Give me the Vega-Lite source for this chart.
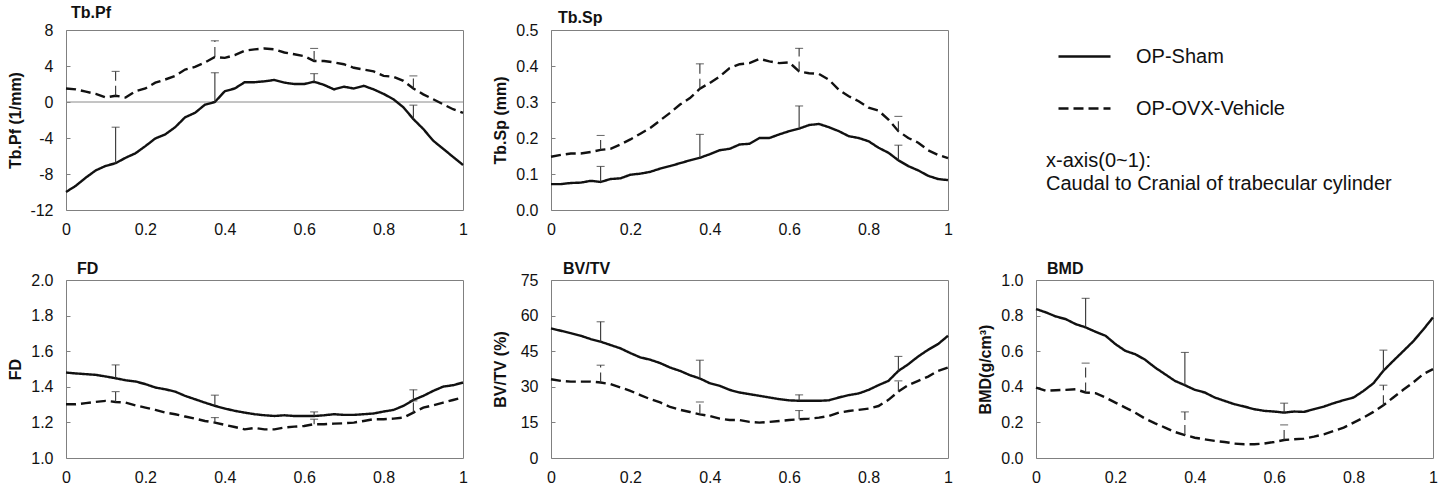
{
  "$schema": "https://vega.github.io/schema/vega-lite/v6.json",
  "background": "white",
  "padding": {"left": 6, "top": 4, "right": 5, "bottom": 5},
  "datasets": {
    "lines": [
      {"p":"Tb.Pf","g":"OP-Sham","x":0,"y":-10.0},{"p":"Tb.Pf","g":"OP-Sham","x":0.025,"y":-9.3},{"p":"Tb.Pf","g":"OP-Sham","x":0.05,"y":-8.4},{"p":"Tb.Pf","g":"OP-Sham","x":0.075,"y":-7.6},{"p":"Tb.Pf","g":"OP-Sham","x":0.1,"y":-7.1},{"p":"Tb.Pf","g":"OP-Sham","x":0.125,"y":-6.8},{"p":"Tb.Pf","g":"OP-Sham","x":0.15,"y":-6.2},{"p":"Tb.Pf","g":"OP-Sham","x":0.175,"y":-5.7},{"p":"Tb.Pf","g":"OP-Sham","x":0.2,"y":-4.9},{"p":"Tb.Pf","g":"OP-Sham","x":0.225,"y":-4.05},{"p":"Tb.Pf","g":"OP-Sham","x":0.25,"y":-3.6},{"p":"Tb.Pf","g":"OP-Sham","x":0.275,"y":-2.8},{"p":"Tb.Pf","g":"OP-Sham","x":0.3,"y":-1.7},{"p":"Tb.Pf","g":"OP-Sham","x":0.325,"y":-1.2},{"p":"Tb.Pf","g":"OP-Sham","x":0.35,"y":-0.3},{"p":"Tb.Pf","g":"OP-Sham","x":0.375,"y":0},{"p":"Tb.Pf","g":"OP-Sham","x":0.4,"y":1.2},{"p":"Tb.Pf","g":"OP-Sham","x":0.425,"y":1.5},{"p":"Tb.Pf","g":"OP-Sham","x":0.45,"y":2.2},{"p":"Tb.Pf","g":"OP-Sham","x":0.475,"y":2.2},{"p":"Tb.Pf","g":"OP-Sham","x":0.5,"y":2.3},{"p":"Tb.Pf","g":"OP-Sham","x":0.525,"y":2.45},{"p":"Tb.Pf","g":"OP-Sham","x":0.55,"y":2.15},{"p":"Tb.Pf","g":"OP-Sham","x":0.575,"y":2.0},{"p":"Tb.Pf","g":"OP-Sham","x":0.6,"y":2.0},{"p":"Tb.Pf","g":"OP-Sham","x":0.625,"y":2.25},{"p":"Tb.Pf","g":"OP-Sham","x":0.65,"y":1.9},{"p":"Tb.Pf","g":"OP-Sham","x":0.675,"y":1.4},{"p":"Tb.Pf","g":"OP-Sham","x":0.7,"y":1.7},{"p":"Tb.Pf","g":"OP-Sham","x":0.725,"y":1.5},{"p":"Tb.Pf","g":"OP-Sham","x":0.75,"y":1.8},{"p":"Tb.Pf","g":"OP-Sham","x":0.775,"y":1.4},{"p":"Tb.Pf","g":"OP-Sham","x":0.8,"y":0.9},{"p":"Tb.Pf","g":"OP-Sham","x":0.825,"y":0.3},{"p":"Tb.Pf","g":"OP-Sham","x":0.85,"y":-0.6},{"p":"Tb.Pf","g":"OP-Sham","x":0.875,"y":-1.9},{"p":"Tb.Pf","g":"OP-Sham","x":0.9,"y":-3.0},{"p":"Tb.Pf","g":"OP-Sham","x":0.925,"y":-4.3},{"p":"Tb.Pf","g":"OP-Sham","x":0.95,"y":-5.2},{"p":"Tb.Pf","g":"OP-Sham","x":0.975,"y":-6.1},{"p":"Tb.Pf","g":"OP-Sham","x":1,"y":-7.0},
      {"p":"Tb.Pf","g":"OP-OVX-Vehicle","x":0,"y":1.5},{"p":"Tb.Pf","g":"OP-OVX-Vehicle","x":0.025,"y":1.4},{"p":"Tb.Pf","g":"OP-OVX-Vehicle","x":0.05,"y":1.15},{"p":"Tb.Pf","g":"OP-OVX-Vehicle","x":0.075,"y":0.9},{"p":"Tb.Pf","g":"OP-OVX-Vehicle","x":0.1,"y":0.5},{"p":"Tb.Pf","g":"OP-OVX-Vehicle","x":0.125,"y":0.7},{"p":"Tb.Pf","g":"OP-OVX-Vehicle","x":0.15,"y":0.5},{"p":"Tb.Pf","g":"OP-OVX-Vehicle","x":0.175,"y":1.2},{"p":"Tb.Pf","g":"OP-OVX-Vehicle","x":0.2,"y":1.5},{"p":"Tb.Pf","g":"OP-OVX-Vehicle","x":0.225,"y":2.15},{"p":"Tb.Pf","g":"OP-OVX-Vehicle","x":0.25,"y":2.5},{"p":"Tb.Pf","g":"OP-OVX-Vehicle","x":0.275,"y":2.9},{"p":"Tb.Pf","g":"OP-OVX-Vehicle","x":0.3,"y":3.6},{"p":"Tb.Pf","g":"OP-OVX-Vehicle","x":0.325,"y":3.9},{"p":"Tb.Pf","g":"OP-OVX-Vehicle","x":0.35,"y":4.4},{"p":"Tb.Pf","g":"OP-OVX-Vehicle","x":0.375,"y":5.0},{"p":"Tb.Pf","g":"OP-OVX-Vehicle","x":0.4,"y":4.9},{"p":"Tb.Pf","g":"OP-OVX-Vehicle","x":0.425,"y":5.2},{"p":"Tb.Pf","g":"OP-OVX-Vehicle","x":0.45,"y":5.7},{"p":"Tb.Pf","g":"OP-OVX-Vehicle","x":0.475,"y":5.85},{"p":"Tb.Pf","g":"OP-OVX-Vehicle","x":0.5,"y":5.95},{"p":"Tb.Pf","g":"OP-OVX-Vehicle","x":0.525,"y":5.85},{"p":"Tb.Pf","g":"OP-OVX-Vehicle","x":0.55,"y":5.5},{"p":"Tb.Pf","g":"OP-OVX-Vehicle","x":0.575,"y":5.3},{"p":"Tb.Pf","g":"OP-OVX-Vehicle","x":0.6,"y":5.1},{"p":"Tb.Pf","g":"OP-OVX-Vehicle","x":0.625,"y":4.55},{"p":"Tb.Pf","g":"OP-OVX-Vehicle","x":0.65,"y":4.55},{"p":"Tb.Pf","g":"OP-OVX-Vehicle","x":0.675,"y":4.4},{"p":"Tb.Pf","g":"OP-OVX-Vehicle","x":0.7,"y":4.2},{"p":"Tb.Pf","g":"OP-OVX-Vehicle","x":0.725,"y":3.8},{"p":"Tb.Pf","g":"OP-OVX-Vehicle","x":0.75,"y":3.6},{"p":"Tb.Pf","g":"OP-OVX-Vehicle","x":0.775,"y":3.4},{"p":"Tb.Pf","g":"OP-OVX-Vehicle","x":0.8,"y":2.9},{"p":"Tb.Pf","g":"OP-OVX-Vehicle","x":0.825,"y":2.8},{"p":"Tb.Pf","g":"OP-OVX-Vehicle","x":0.85,"y":2.35},{"p":"Tb.Pf","g":"OP-OVX-Vehicle","x":0.875,"y":1.5},{"p":"Tb.Pf","g":"OP-OVX-Vehicle","x":0.9,"y":0.85},{"p":"Tb.Pf","g":"OP-OVX-Vehicle","x":0.925,"y":0.3},{"p":"Tb.Pf","g":"OP-OVX-Vehicle","x":0.95,"y":-0.25},{"p":"Tb.Pf","g":"OP-OVX-Vehicle","x":0.975,"y":-0.8},{"p":"Tb.Pf","g":"OP-OVX-Vehicle","x":1,"y":-1.2},
      {"p":"Tb.Sp","g":"OP-Sham","x":0,"y":0.072},{"p":"Tb.Sp","g":"OP-Sham","x":0.025,"y":0.072},{"p":"Tb.Sp","g":"OP-Sham","x":0.05,"y":0.075},{"p":"Tb.Sp","g":"OP-Sham","x":0.075,"y":0.076},{"p":"Tb.Sp","g":"OP-Sham","x":0.1,"y":0.081},{"p":"Tb.Sp","g":"OP-Sham","x":0.125,"y":0.078},{"p":"Tb.Sp","g":"OP-Sham","x":0.15,"y":0.086},{"p":"Tb.Sp","g":"OP-Sham","x":0.175,"y":0.088},{"p":"Tb.Sp","g":"OP-Sham","x":0.2,"y":0.098},{"p":"Tb.Sp","g":"OP-Sham","x":0.225,"y":0.101},{"p":"Tb.Sp","g":"OP-Sham","x":0.25,"y":0.106},{"p":"Tb.Sp","g":"OP-Sham","x":0.275,"y":0.115},{"p":"Tb.Sp","g":"OP-Sham","x":0.3,"y":0.122},{"p":"Tb.Sp","g":"OP-Sham","x":0.325,"y":0.13},{"p":"Tb.Sp","g":"OP-Sham","x":0.35,"y":0.138},{"p":"Tb.Sp","g":"OP-Sham","x":0.375,"y":0.145},{"p":"Tb.Sp","g":"OP-Sham","x":0.4,"y":0.155},{"p":"Tb.Sp","g":"OP-Sham","x":0.425,"y":0.166},{"p":"Tb.Sp","g":"OP-Sham","x":0.45,"y":0.17},{"p":"Tb.Sp","g":"OP-Sham","x":0.475,"y":0.182},{"p":"Tb.Sp","g":"OP-Sham","x":0.5,"y":0.184},{"p":"Tb.Sp","g":"OP-Sham","x":0.525,"y":0.2},{"p":"Tb.Sp","g":"OP-Sham","x":0.55,"y":0.2},{"p":"Tb.Sp","g":"OP-Sham","x":0.575,"y":0.21},{"p":"Tb.Sp","g":"OP-Sham","x":0.6,"y":0.219},{"p":"Tb.Sp","g":"OP-Sham","x":0.625,"y":0.226},{"p":"Tb.Sp","g":"OP-Sham","x":0.65,"y":0.236},{"p":"Tb.Sp","g":"OP-Sham","x":0.675,"y":0.239},{"p":"Tb.Sp","g":"OP-Sham","x":0.7,"y":0.23},{"p":"Tb.Sp","g":"OP-Sham","x":0.725,"y":0.219},{"p":"Tb.Sp","g":"OP-Sham","x":0.75,"y":0.205},{"p":"Tb.Sp","g":"OP-Sham","x":0.775,"y":0.2},{"p":"Tb.Sp","g":"OP-Sham","x":0.8,"y":0.191},{"p":"Tb.Sp","g":"OP-Sham","x":0.825,"y":0.173},{"p":"Tb.Sp","g":"OP-Sham","x":0.85,"y":0.159},{"p":"Tb.Sp","g":"OP-Sham","x":0.875,"y":0.138},{"p":"Tb.Sp","g":"OP-Sham","x":0.9,"y":0.122},{"p":"Tb.Sp","g":"OP-Sham","x":0.925,"y":0.11},{"p":"Tb.Sp","g":"OP-Sham","x":0.95,"y":0.095},{"p":"Tb.Sp","g":"OP-Sham","x":0.975,"y":0.086},{"p":"Tb.Sp","g":"OP-Sham","x":1,"y":0.083},
      {"p":"Tb.Sp","g":"OP-OVX-Vehicle","x":0,"y":0.148},{"p":"Tb.Sp","g":"OP-OVX-Vehicle","x":0.025,"y":0.153},{"p":"Tb.Sp","g":"OP-OVX-Vehicle","x":0.05,"y":0.157},{"p":"Tb.Sp","g":"OP-OVX-Vehicle","x":0.075,"y":0.157},{"p":"Tb.Sp","g":"OP-OVX-Vehicle","x":0.1,"y":0.161},{"p":"Tb.Sp","g":"OP-OVX-Vehicle","x":0.125,"y":0.167},{"p":"Tb.Sp","g":"OP-OVX-Vehicle","x":0.15,"y":0.17},{"p":"Tb.Sp","g":"OP-OVX-Vehicle","x":0.175,"y":0.182},{"p":"Tb.Sp","g":"OP-OVX-Vehicle","x":0.2,"y":0.196},{"p":"Tb.Sp","g":"OP-OVX-Vehicle","x":0.225,"y":0.212},{"p":"Tb.Sp","g":"OP-OVX-Vehicle","x":0.25,"y":0.228},{"p":"Tb.Sp","g":"OP-OVX-Vehicle","x":0.275,"y":0.249},{"p":"Tb.Sp","g":"OP-OVX-Vehicle","x":0.3,"y":0.27},{"p":"Tb.Sp","g":"OP-OVX-Vehicle","x":0.325,"y":0.293},{"p":"Tb.Sp","g":"OP-OVX-Vehicle","x":0.35,"y":0.311},{"p":"Tb.Sp","g":"OP-OVX-Vehicle","x":0.375,"y":0.337},{"p":"Tb.Sp","g":"OP-OVX-Vehicle","x":0.4,"y":0.353},{"p":"Tb.Sp","g":"OP-OVX-Vehicle","x":0.425,"y":0.371},{"p":"Tb.Sp","g":"OP-OVX-Vehicle","x":0.45,"y":0.394},{"p":"Tb.Sp","g":"OP-OVX-Vehicle","x":0.475,"y":0.405},{"p":"Tb.Sp","g":"OP-OVX-Vehicle","x":0.5,"y":0.408},{"p":"Tb.Sp","g":"OP-OVX-Vehicle","x":0.525,"y":0.42},{"p":"Tb.Sp","g":"OP-OVX-Vehicle","x":0.55,"y":0.413},{"p":"Tb.Sp","g":"OP-OVX-Vehicle","x":0.575,"y":0.408},{"p":"Tb.Sp","g":"OP-OVX-Vehicle","x":0.6,"y":0.41},{"p":"Tb.Sp","g":"OP-OVX-Vehicle","x":0.625,"y":0.385},{"p":"Tb.Sp","g":"OP-OVX-Vehicle","x":0.65,"y":0.38},{"p":"Tb.Sp","g":"OP-OVX-Vehicle","x":0.675,"y":0.378},{"p":"Tb.Sp","g":"OP-OVX-Vehicle","x":0.7,"y":0.362},{"p":"Tb.Sp","g":"OP-OVX-Vehicle","x":0.725,"y":0.334},{"p":"Tb.Sp","g":"OP-OVX-Vehicle","x":0.75,"y":0.316},{"p":"Tb.Sp","g":"OP-OVX-Vehicle","x":0.775,"y":0.302},{"p":"Tb.Sp","g":"OP-OVX-Vehicle","x":0.8,"y":0.284},{"p":"Tb.Sp","g":"OP-OVX-Vehicle","x":0.825,"y":0.276},{"p":"Tb.Sp","g":"OP-OVX-Vehicle","x":0.85,"y":0.251},{"p":"Tb.Sp","g":"OP-OVX-Vehicle","x":0.875,"y":0.219},{"p":"Tb.Sp","g":"OP-OVX-Vehicle","x":0.9,"y":0.2},{"p":"Tb.Sp","g":"OP-OVX-Vehicle","x":0.925,"y":0.187},{"p":"Tb.Sp","g":"OP-OVX-Vehicle","x":0.95,"y":0.166},{"p":"Tb.Sp","g":"OP-OVX-Vehicle","x":0.975,"y":0.153},{"p":"Tb.Sp","g":"OP-OVX-Vehicle","x":1,"y":0.144},
      {"p":"FD","g":"OP-Sham","x":0,"y":1.48},{"p":"FD","g":"OP-Sham","x":0.025,"y":1.475},{"p":"FD","g":"OP-Sham","x":0.05,"y":1.471},{"p":"FD","g":"OP-Sham","x":0.075,"y":1.467},{"p":"FD","g":"OP-Sham","x":0.1,"y":1.458},{"p":"FD","g":"OP-Sham","x":0.125,"y":1.448},{"p":"FD","g":"OP-Sham","x":0.15,"y":1.437},{"p":"FD","g":"OP-Sham","x":0.175,"y":1.43},{"p":"FD","g":"OP-Sham","x":0.2,"y":1.415},{"p":"FD","g":"OP-Sham","x":0.225,"y":1.396},{"p":"FD","g":"OP-Sham","x":0.25,"y":1.386},{"p":"FD","g":"OP-Sham","x":0.275,"y":1.373},{"p":"FD","g":"OP-Sham","x":0.3,"y":1.349},{"p":"FD","g":"OP-Sham","x":0.325,"y":1.33},{"p":"FD","g":"OP-Sham","x":0.35,"y":1.311},{"p":"FD","g":"OP-Sham","x":0.375,"y":1.293},{"p":"FD","g":"OP-Sham","x":0.4,"y":1.278},{"p":"FD","g":"OP-Sham","x":0.425,"y":1.265},{"p":"FD","g":"OP-Sham","x":0.45,"y":1.255},{"p":"FD","g":"OP-Sham","x":0.475,"y":1.246},{"p":"FD","g":"OP-Sham","x":0.5,"y":1.24},{"p":"FD","g":"OP-Sham","x":0.525,"y":1.236},{"p":"FD","g":"OP-Sham","x":0.55,"y":1.24},{"p":"FD","g":"OP-Sham","x":0.575,"y":1.236},{"p":"FD","g":"OP-Sham","x":0.6,"y":1.236},{"p":"FD","g":"OP-Sham","x":0.625,"y":1.236},{"p":"FD","g":"OP-Sham","x":0.65,"y":1.24},{"p":"FD","g":"OP-Sham","x":0.675,"y":1.246},{"p":"FD","g":"OP-Sham","x":0.7,"y":1.242},{"p":"FD","g":"OP-Sham","x":0.725,"y":1.242},{"p":"FD","g":"OP-Sham","x":0.75,"y":1.246},{"p":"FD","g":"OP-Sham","x":0.775,"y":1.25},{"p":"FD","g":"OP-Sham","x":0.8,"y":1.261},{"p":"FD","g":"OP-Sham","x":0.825,"y":1.27},{"p":"FD","g":"OP-Sham","x":0.85,"y":1.293},{"p":"FD","g":"OP-Sham","x":0.875,"y":1.326},{"p":"FD","g":"OP-Sham","x":0.9,"y":1.349},{"p":"FD","g":"OP-Sham","x":0.925,"y":1.377},{"p":"FD","g":"OP-Sham","x":0.95,"y":1.401},{"p":"FD","g":"OP-Sham","x":0.975,"y":1.409},{"p":"FD","g":"OP-Sham","x":1,"y":1.424},
      {"p":"FD","g":"OP-OVX-Vehicle","x":0,"y":1.302},{"p":"FD","g":"OP-OVX-Vehicle","x":0.025,"y":1.302},{"p":"FD","g":"OP-OVX-Vehicle","x":0.05,"y":1.308},{"p":"FD","g":"OP-OVX-Vehicle","x":0.075,"y":1.315},{"p":"FD","g":"OP-OVX-Vehicle","x":0.1,"y":1.321},{"p":"FD","g":"OP-OVX-Vehicle","x":0.125,"y":1.315},{"p":"FD","g":"OP-OVX-Vehicle","x":0.15,"y":1.311},{"p":"FD","g":"OP-OVX-Vehicle","x":0.175,"y":1.296},{"p":"FD","g":"OP-OVX-Vehicle","x":0.2,"y":1.283},{"p":"FD","g":"OP-OVX-Vehicle","x":0.225,"y":1.27},{"p":"FD","g":"OP-OVX-Vehicle","x":0.25,"y":1.255},{"p":"FD","g":"OP-OVX-Vehicle","x":0.275,"y":1.246},{"p":"FD","g":"OP-OVX-Vehicle","x":0.3,"y":1.233},{"p":"FD","g":"OP-OVX-Vehicle","x":0.325,"y":1.221},{"p":"FD","g":"OP-OVX-Vehicle","x":0.35,"y":1.208},{"p":"FD","g":"OP-OVX-Vehicle","x":0.375,"y":1.199},{"p":"FD","g":"OP-OVX-Vehicle","x":0.4,"y":1.186},{"p":"FD","g":"OP-OVX-Vehicle","x":0.425,"y":1.174},{"p":"FD","g":"OP-OVX-Vehicle","x":0.45,"y":1.161},{"p":"FD","g":"OP-OVX-Vehicle","x":0.475,"y":1.169},{"p":"FD","g":"OP-OVX-Vehicle","x":0.5,"y":1.161},{"p":"FD","g":"OP-OVX-Vehicle","x":0.525,"y":1.161},{"p":"FD","g":"OP-OVX-Vehicle","x":0.55,"y":1.171},{"p":"FD","g":"OP-OVX-Vehicle","x":0.575,"y":1.176},{"p":"FD","g":"OP-OVX-Vehicle","x":0.6,"y":1.18},{"p":"FD","g":"OP-OVX-Vehicle","x":0.625,"y":1.19},{"p":"FD","g":"OP-OVX-Vehicle","x":0.65,"y":1.19},{"p":"FD","g":"OP-OVX-Vehicle","x":0.675,"y":1.193},{"p":"FD","g":"OP-OVX-Vehicle","x":0.7,"y":1.195},{"p":"FD","g":"OP-OVX-Vehicle","x":0.725,"y":1.199},{"p":"FD","g":"OP-OVX-Vehicle","x":0.75,"y":1.208},{"p":"FD","g":"OP-OVX-Vehicle","x":0.775,"y":1.218},{"p":"FD","g":"OP-OVX-Vehicle","x":0.8,"y":1.218},{"p":"FD","g":"OP-OVX-Vehicle","x":0.825,"y":1.221},{"p":"FD","g":"OP-OVX-Vehicle","x":0.85,"y":1.227},{"p":"FD","g":"OP-OVX-Vehicle","x":0.875,"y":1.255},{"p":"FD","g":"OP-OVX-Vehicle","x":0.9,"y":1.283},{"p":"FD","g":"OP-OVX-Vehicle","x":0.925,"y":1.296},{"p":"FD","g":"OP-OVX-Vehicle","x":0.95,"y":1.311},{"p":"FD","g":"OP-OVX-Vehicle","x":0.975,"y":1.326},{"p":"FD","g":"OP-OVX-Vehicle","x":1,"y":1.34},
      {"p":"BV/TV","g":"OP-Sham","x":0,"y":54.6},{"p":"BV/TV","g":"OP-Sham","x":0.025,"y":53.6},{"p":"BV/TV","g":"OP-Sham","x":0.05,"y":52.6},{"p":"BV/TV","g":"OP-Sham","x":0.075,"y":51.5},{"p":"BV/TV","g":"OP-Sham","x":0.1,"y":50.1},{"p":"BV/TV","g":"OP-Sham","x":0.125,"y":49.0},{"p":"BV/TV","g":"OP-Sham","x":0.15,"y":47.6},{"p":"BV/TV","g":"OP-Sham","x":0.175,"y":46.2},{"p":"BV/TV","g":"OP-Sham","x":0.2,"y":44.2},{"p":"BV/TV","g":"OP-Sham","x":0.225,"y":42.4},{"p":"BV/TV","g":"OP-Sham","x":0.25,"y":41.4},{"p":"BV/TV","g":"OP-Sham","x":0.275,"y":40.0},{"p":"BV/TV","g":"OP-Sham","x":0.3,"y":38.1},{"p":"BV/TV","g":"OP-Sham","x":0.325,"y":36.7},{"p":"BV/TV","g":"OP-Sham","x":0.35,"y":34.9},{"p":"BV/TV","g":"OP-Sham","x":0.375,"y":33.5},{"p":"BV/TV","g":"OP-Sham","x":0.4,"y":31.5},{"p":"BV/TV","g":"OP-Sham","x":0.425,"y":30.4},{"p":"BV/TV","g":"OP-Sham","x":0.45,"y":28.7},{"p":"BV/TV","g":"OP-Sham","x":0.475,"y":27.6},{"p":"BV/TV","g":"OP-Sham","x":0.5,"y":26.9},{"p":"BV/TV","g":"OP-Sham","x":0.525,"y":26.2},{"p":"BV/TV","g":"OP-Sham","x":0.55,"y":25.5},{"p":"BV/TV","g":"OP-Sham","x":0.575,"y":24.8},{"p":"BV/TV","g":"OP-Sham","x":0.6,"y":24.3},{"p":"BV/TV","g":"OP-Sham","x":0.625,"y":24.1},{"p":"BV/TV","g":"OP-Sham","x":0.65,"y":24.1},{"p":"BV/TV","g":"OP-Sham","x":0.675,"y":24.1},{"p":"BV/TV","g":"OP-Sham","x":0.7,"y":24.3},{"p":"BV/TV","g":"OP-Sham","x":0.725,"y":25.5},{"p":"BV/TV","g":"OP-Sham","x":0.75,"y":26.5},{"p":"BV/TV","g":"OP-Sham","x":0.775,"y":27.2},{"p":"BV/TV","g":"OP-Sham","x":0.8,"y":28.7},{"p":"BV/TV","g":"OP-Sham","x":0.825,"y":30.7},{"p":"BV/TV","g":"OP-Sham","x":0.85,"y":32.5},{"p":"BV/TV","g":"OP-Sham","x":0.875,"y":36.7},{"p":"BV/TV","g":"OP-Sham","x":0.9,"y":39.5},{"p":"BV/TV","g":"OP-Sham","x":0.925,"y":42.8},{"p":"BV/TV","g":"OP-Sham","x":0.95,"y":45.6},{"p":"BV/TV","g":"OP-Sham","x":0.975,"y":48.0},{"p":"BV/TV","g":"OP-Sham","x":1,"y":51.5},
      {"p":"BV/TV","g":"OP-OVX-Vehicle","x":0,"y":33.2},{"p":"BV/TV","g":"OP-OVX-Vehicle","x":0.025,"y":32.5},{"p":"BV/TV","g":"OP-OVX-Vehicle","x":0.05,"y":32.2},{"p":"BV/TV","g":"OP-OVX-Vehicle","x":0.075,"y":32.2},{"p":"BV/TV","g":"OP-OVX-Vehicle","x":0.1,"y":32.2},{"p":"BV/TV","g":"OP-OVX-Vehicle","x":0.125,"y":31.8},{"p":"BV/TV","g":"OP-OVX-Vehicle","x":0.15,"y":31.1},{"p":"BV/TV","g":"OP-OVX-Vehicle","x":0.175,"y":29.7},{"p":"BV/TV","g":"OP-OVX-Vehicle","x":0.2,"y":28.3},{"p":"BV/TV","g":"OP-OVX-Vehicle","x":0.225,"y":26.5},{"p":"BV/TV","g":"OP-OVX-Vehicle","x":0.25,"y":24.8},{"p":"BV/TV","g":"OP-OVX-Vehicle","x":0.275,"y":23.4},{"p":"BV/TV","g":"OP-OVX-Vehicle","x":0.3,"y":21.5},{"p":"BV/TV","g":"OP-OVX-Vehicle","x":0.325,"y":20.3},{"p":"BV/TV","g":"OP-OVX-Vehicle","x":0.35,"y":19.4},{"p":"BV/TV","g":"OP-OVX-Vehicle","x":0.375,"y":18.4},{"p":"BV/TV","g":"OP-OVX-Vehicle","x":0.4,"y":17.7},{"p":"BV/TV","g":"OP-OVX-Vehicle","x":0.425,"y":16.6},{"p":"BV/TV","g":"OP-OVX-Vehicle","x":0.45,"y":16.0},{"p":"BV/TV","g":"OP-OVX-Vehicle","x":0.475,"y":16.0},{"p":"BV/TV","g":"OP-OVX-Vehicle","x":0.5,"y":15.2},{"p":"BV/TV","g":"OP-OVX-Vehicle","x":0.525,"y":14.9},{"p":"BV/TV","g":"OP-OVX-Vehicle","x":0.55,"y":15.2},{"p":"BV/TV","g":"OP-OVX-Vehicle","x":0.575,"y":15.6},{"p":"BV/TV","g":"OP-OVX-Vehicle","x":0.6,"y":16.0},{"p":"BV/TV","g":"OP-OVX-Vehicle","x":0.625,"y":16.3},{"p":"BV/TV","g":"OP-OVX-Vehicle","x":0.65,"y":16.6},{"p":"BV/TV","g":"OP-OVX-Vehicle","x":0.675,"y":17.0},{"p":"BV/TV","g":"OP-OVX-Vehicle","x":0.7,"y":17.7},{"p":"BV/TV","g":"OP-OVX-Vehicle","x":0.725,"y":19.1},{"p":"BV/TV","g":"OP-OVX-Vehicle","x":0.75,"y":19.8},{"p":"BV/TV","g":"OP-OVX-Vehicle","x":0.775,"y":20.3},{"p":"BV/TV","g":"OP-OVX-Vehicle","x":0.8,"y":20.8},{"p":"BV/TV","g":"OP-OVX-Vehicle","x":0.825,"y":21.9},{"p":"BV/TV","g":"OP-OVX-Vehicle","x":0.85,"y":24.5},{"p":"BV/TV","g":"OP-OVX-Vehicle","x":0.875,"y":28.0},{"p":"BV/TV","g":"OP-OVX-Vehicle","x":0.9,"y":30.7},{"p":"BV/TV","g":"OP-OVX-Vehicle","x":0.925,"y":32.5},{"p":"BV/TV","g":"OP-OVX-Vehicle","x":0.95,"y":34.3},{"p":"BV/TV","g":"OP-OVX-Vehicle","x":0.975,"y":36.7},{"p":"BV/TV","g":"OP-OVX-Vehicle","x":1,"y":38.1},
      {"p":"BMD","g":"OP-Sham","x":0,"y":0.837},{"p":"BMD","g":"OP-Sham","x":0.025,"y":0.818},{"p":"BMD","g":"OP-Sham","x":0.05,"y":0.795},{"p":"BMD","g":"OP-Sham","x":0.075,"y":0.78},{"p":"BMD","g":"OP-Sham","x":0.1,"y":0.752},{"p":"BMD","g":"OP-Sham","x":0.125,"y":0.734},{"p":"BMD","g":"OP-Sham","x":0.15,"y":0.709},{"p":"BMD","g":"OP-Sham","x":0.175,"y":0.687},{"p":"BMD","g":"OP-Sham","x":0.2,"y":0.64},{"p":"BMD","g":"OP-Sham","x":0.225,"y":0.602},{"p":"BMD","g":"OP-Sham","x":0.25,"y":0.583},{"p":"BMD","g":"OP-Sham","x":0.275,"y":0.552},{"p":"BMD","g":"OP-Sham","x":0.3,"y":0.508},{"p":"BMD","g":"OP-Sham","x":0.325,"y":0.471},{"p":"BMD","g":"OP-Sham","x":0.35,"y":0.433},{"p":"BMD","g":"OP-Sham","x":0.375,"y":0.409},{"p":"BMD","g":"OP-Sham","x":0.4,"y":0.383},{"p":"BMD","g":"OP-Sham","x":0.425,"y":0.368},{"p":"BMD","g":"OP-Sham","x":0.45,"y":0.34},{"p":"BMD","g":"OP-Sham","x":0.475,"y":0.321},{"p":"BMD","g":"OP-Sham","x":0.5,"y":0.302},{"p":"BMD","g":"OP-Sham","x":0.525,"y":0.289},{"p":"BMD","g":"OP-Sham","x":0.55,"y":0.274},{"p":"BMD","g":"OP-Sham","x":0.575,"y":0.265},{"p":"BMD","g":"OP-Sham","x":0.6,"y":0.261},{"p":"BMD","g":"OP-Sham","x":0.625,"y":0.255},{"p":"BMD","g":"OP-Sham","x":0.65,"y":0.261},{"p":"BMD","g":"OP-Sham","x":0.675,"y":0.259},{"p":"BMD","g":"OP-Sham","x":0.7,"y":0.274},{"p":"BMD","g":"OP-Sham","x":0.725,"y":0.289},{"p":"BMD","g":"OP-Sham","x":0.75,"y":0.308},{"p":"BMD","g":"OP-Sham","x":0.775,"y":0.325},{"p":"BMD","g":"OP-Sham","x":0.8,"y":0.34},{"p":"BMD","g":"OP-Sham","x":0.825,"y":0.377},{"p":"BMD","g":"OP-Sham","x":0.85,"y":0.42},{"p":"BMD","g":"OP-Sham","x":0.875,"y":0.49},{"p":"BMD","g":"OP-Sham","x":0.9,"y":0.546},{"p":"BMD","g":"OP-Sham","x":0.925,"y":0.6},{"p":"BMD","g":"OP-Sham","x":0.95,"y":0.655},{"p":"BMD","g":"OP-Sham","x":0.975,"y":0.72},{"p":"BMD","g":"OP-Sham","x":1,"y":0.79},
      {"p":"BMD","g":"OP-OVX-Vehicle","x":0,"y":0.396},{"p":"BMD","g":"OP-OVX-Vehicle","x":0.025,"y":0.377},{"p":"BMD","g":"OP-OVX-Vehicle","x":0.05,"y":0.381},{"p":"BMD","g":"OP-OVX-Vehicle","x":0.075,"y":0.383},{"p":"BMD","g":"OP-OVX-Vehicle","x":0.1,"y":0.386},{"p":"BMD","g":"OP-OVX-Vehicle","x":0.125,"y":0.368},{"p":"BMD","g":"OP-OVX-Vehicle","x":0.15,"y":0.364},{"p":"BMD","g":"OP-OVX-Vehicle","x":0.175,"y":0.34},{"p":"BMD","g":"OP-OVX-Vehicle","x":0.2,"y":0.311},{"p":"BMD","g":"OP-OVX-Vehicle","x":0.225,"y":0.283},{"p":"BMD","g":"OP-OVX-Vehicle","x":0.25,"y":0.255},{"p":"BMD","g":"OP-OVX-Vehicle","x":0.275,"y":0.221},{"p":"BMD","g":"OP-OVX-Vehicle","x":0.3,"y":0.195},{"p":"BMD","g":"OP-OVX-Vehicle","x":0.325,"y":0.171},{"p":"BMD","g":"OP-OVX-Vehicle","x":0.35,"y":0.146},{"p":"BMD","g":"OP-OVX-Vehicle","x":0.375,"y":0.129},{"p":"BMD","g":"OP-OVX-Vehicle","x":0.4,"y":0.114},{"p":"BMD","g":"OP-OVX-Vehicle","x":0.425,"y":0.105},{"p":"BMD","g":"OP-OVX-Vehicle","x":0.45,"y":0.096},{"p":"BMD","g":"OP-OVX-Vehicle","x":0.475,"y":0.09},{"p":"BMD","g":"OP-OVX-Vehicle","x":0.5,"y":0.081},{"p":"BMD","g":"OP-OVX-Vehicle","x":0.525,"y":0.077},{"p":"BMD","g":"OP-OVX-Vehicle","x":0.55,"y":0.077},{"p":"BMD","g":"OP-OVX-Vehicle","x":0.575,"y":0.081},{"p":"BMD","g":"OP-OVX-Vehicle","x":0.6,"y":0.09},{"p":"BMD","g":"OP-OVX-Vehicle","x":0.625,"y":0.101},{"p":"BMD","g":"OP-OVX-Vehicle","x":0.65,"y":0.105},{"p":"BMD","g":"OP-OVX-Vehicle","x":0.675,"y":0.109},{"p":"BMD","g":"OP-OVX-Vehicle","x":0.7,"y":0.12},{"p":"BMD","g":"OP-OVX-Vehicle","x":0.725,"y":0.133},{"p":"BMD","g":"OP-OVX-Vehicle","x":0.75,"y":0.152},{"p":"BMD","g":"OP-OVX-Vehicle","x":0.775,"y":0.171},{"p":"BMD","g":"OP-OVX-Vehicle","x":0.8,"y":0.199},{"p":"BMD","g":"OP-OVX-Vehicle","x":0.825,"y":0.227},{"p":"BMD","g":"OP-OVX-Vehicle","x":0.85,"y":0.259},{"p":"BMD","g":"OP-OVX-Vehicle","x":0.875,"y":0.296},{"p":"BMD","g":"OP-OVX-Vehicle","x":0.9,"y":0.34},{"p":"BMD","g":"OP-OVX-Vehicle","x":0.925,"y":0.383},{"p":"BMD","g":"OP-OVX-Vehicle","x":0.95,"y":0.424},{"p":"BMD","g":"OP-OVX-Vehicle","x":0.975,"y":0.471},{"p":"BMD","g":"OP-OVX-Vehicle","x":1,"y":0.499}
    ],
    "bars": [
      {"p":"Tb.Pf","g":"OP-Sham","x":0.125,"y":-6.8,"hi":-2.8},{"p":"Tb.Pf","g":"OP-Sham","x":0.375,"y":0,"hi":3.25},{"p":"Tb.Pf","g":"OP-Sham","x":0.625,"y":2.25,"hi":3.15},{"p":"Tb.Pf","g":"OP-Sham","x":0.875,"y":-1.9,"hi":-0.35},
      {"p":"Tb.Pf","g":"OP-OVX-Vehicle","x":0.125,"y":0.7,"hi":3.4},{"p":"Tb.Pf","g":"OP-OVX-Vehicle","x":0.375,"y":5.0,"hi":6.8},{"p":"Tb.Pf","g":"OP-OVX-Vehicle","x":0.625,"y":4.55,"hi":5.95},{"p":"Tb.Pf","g":"OP-OVX-Vehicle","x":0.875,"y":1.5,"hi":2.9},
      {"p":"Tb.Sp","g":"OP-Sham","x":0.125,"y":0.078,"hi":0.121},{"p":"Tb.Sp","g":"OP-Sham","x":0.375,"y":0.145,"hi":0.21},{"p":"Tb.Sp","g":"OP-Sham","x":0.625,"y":0.226,"hi":0.289},{"p":"Tb.Sp","g":"OP-Sham","x":0.875,"y":0.138,"hi":0.18},
      {"p":"Tb.Sp","g":"OP-OVX-Vehicle","x":0.125,"y":0.167,"hi":0.207},{"p":"Tb.Sp","g":"OP-OVX-Vehicle","x":0.375,"y":0.337,"hi":0.406},{"p":"Tb.Sp","g":"OP-OVX-Vehicle","x":0.625,"y":0.385,"hi":0.449},{"p":"Tb.Sp","g":"OP-OVX-Vehicle","x":0.875,"y":0.219,"hi":0.26},
      {"p":"FD","g":"OP-Sham","x":0.125,"y":1.448,"hi":1.523},{"p":"FD","g":"OP-Sham","x":0.375,"y":1.293,"hi":1.353},{"p":"FD","g":"OP-Sham","x":0.625,"y":1.236,"hi":1.259},{"p":"FD","g":"OP-Sham","x":0.875,"y":1.326,"hi":1.383},
      {"p":"FD","g":"OP-OVX-Vehicle","x":0.125,"y":1.315,"hi":1.373},{"p":"FD","g":"OP-OVX-Vehicle","x":0.375,"y":1.199,"hi":1.227},{"p":"FD","g":"OP-OVX-Vehicle","x":0.625,"y":1.19,"hi":1.218},{"p":"FD","g":"OP-OVX-Vehicle","x":0.875,"y":1.255,"hi":1.321},
      {"p":"BV/TV","g":"OP-Sham","x":0.125,"y":49.0,"hi":57.4},{"p":"BV/TV","g":"OP-Sham","x":0.375,"y":33.5,"hi":41.2},{"p":"BV/TV","g":"OP-Sham","x":0.625,"y":24.1,"hi":26.6},{"p":"BV/TV","g":"OP-Sham","x":0.875,"y":36.7,"hi":42.8},
      {"p":"BV/TV","g":"OP-OVX-Vehicle","x":0.125,"y":31.8,"hi":39.1},{"p":"BV/TV","g":"OP-OVX-Vehicle","x":0.375,"y":18.4,"hi":23.6},{"p":"BV/TV","g":"OP-OVX-Vehicle","x":0.625,"y":16.3,"hi":20.0},{"p":"BV/TV","g":"OP-OVX-Vehicle","x":0.875,"y":28.0,"hi":32.5},
      {"p":"BMD","g":"OP-Sham","x":0.125,"y":0.734,"hi":0.897},{"p":"BMD","g":"OP-Sham","x":0.375,"y":0.409,"hi":0.593},{"p":"BMD","g":"OP-Sham","x":0.625,"y":0.255,"hi":0.308},{"p":"BMD","g":"OP-Sham","x":0.875,"y":0.49,"hi":0.606},
      {"p":"BMD","g":"OP-OVX-Vehicle","x":0.125,"y":0.368,"hi":0.533},{"p":"BMD","g":"OP-OVX-Vehicle","x":0.375,"y":0.129,"hi":0.259},{"p":"BMD","g":"OP-OVX-Vehicle","x":0.625,"y":0.101,"hi":0.186},{"p":"BMD","g":"OP-OVX-Vehicle","x":0.875,"y":0.296,"hi":0.409}
    ]
  },
  "columns": 3,
  "bounds": "flush",
  "spacing": {"row": 70, "column": 88},
  "concat": [
    {
      "width": 397, "height": 180,
      "title": {"text": "Tb.Pf", "dx": 5, "offset": 1},
      "layer": [
        {"data": {"values": [{"v": 0}]}, "mark": {"type": "rule", "color": "#8a8a8a", "strokeWidth": 1}, "encoding": {"y": {"field": "v", "type": "quantitative"}}},
        {"data": {"name": "lines"}, "transform": [{"filter": "datum.p == 'Tb.Pf'"}], "mark": {"type": "line", "color": "#111", "strokeWidth": 2.4},
         "encoding": {"x": {"field": "x", "type": "quantitative", "scale": {"domain": [0, 1]}, "axis": {"values": [0, 0.2, 0.4, 0.6, 0.8, 1], "format": "~g", "title": null}},
                      "y": {"field": "y", "type": "quantitative", "scale": {"domain": [-12, 8], "nice": false}, "axis": {"values": [-12, -8, -4, 0, 4, 8], "tickCount": 6, "labelExpr": "replace(datum.label, '\u2212', '-')", "title": "Tb.Pf (1/mm)"}},
                      "strokeDash": {"field": "g", "type": "nominal", "scale": {"domain": ["OP-Sham", "OP-OVX-Vehicle"], "range": [[1, 0], [10, 5]]}, "title": ["x-axis(0~1):", "Caudal to Cranial of trabecular cylinder"]}}},
        {"data": {"name": "bars"}, "transform": [{"filter": "datum.p == 'Tb.Pf'"}], "mark": {"type": "rule", "color": "#333", "strokeWidth": 1.1},
         "encoding": {"x": {"field": "x", "type": "quantitative"}, "y": {"field": "y", "type": "quantitative"}, "y2": {"field": "hi"},
                      "strokeDash": {"field": "g", "type": "nominal", "title": ["x-axis(0~1):", "Caudal to Cranial of trabecular cylinder"]}}},
        {"data": {"name": "bars"}, "transform": [{"filter": "datum.p == 'Tb.Pf'"}], "mark": {"type": "tick", "color": "#333", "orient": "horizontal", "size": 8, "thickness": 1.1},
         "encoding": {"x": {"field": "x", "type": "quantitative"}, "y": {"field": "hi", "type": "quantitative"}}}
      ]
    },
    {
      "width": 397, "height": 180,
      "title": {"text": "Tb.Sp", "dx": 7, "offset": -4},
      "layer": [
        {"data": {"name": "lines"}, "transform": [{"filter": "datum.p == 'Tb.Sp'"}], "mark": {"type": "line", "color": "#111", "strokeWidth": 2.4},
         "encoding": {"x": {"field": "x", "type": "quantitative", "scale": {"domain": [0, 1]}, "axis": {"values": [0, 0.2, 0.4, 0.6, 0.8, 1], "format": "~g", "title": null}},
                      "y": {"field": "y", "type": "quantitative", "scale": {"domain": [0, 0.5], "nice": false}, "axis": {"values": [0, 0.1, 0.2, 0.3, 0.4, 0.5], "tickCount": 6, "format": ".1f", "title": "Tb.Sp (mm)"}},
                      "strokeDash": {"field": "g", "type": "nominal", "scale": {"domain": ["OP-Sham", "OP-OVX-Vehicle"], "range": [[1, 0], [10, 5]]}, "title": ["x-axis(0~1):", "Caudal to Cranial of trabecular cylinder"]}}},
        {"data": {"name": "bars"}, "transform": [{"filter": "datum.p == 'Tb.Sp'"}], "mark": {"type": "rule", "color": "#333", "strokeWidth": 1.1},
         "encoding": {"x": {"field": "x", "type": "quantitative"}, "y": {"field": "y", "type": "quantitative"}, "y2": {"field": "hi"},
                      "strokeDash": {"field": "g", "type": "nominal", "title": ["x-axis(0~1):", "Caudal to Cranial of trabecular cylinder"]}}},
        {"data": {"name": "bars"}, "transform": [{"filter": "datum.p == 'Tb.Sp'"}], "mark": {"type": "tick", "color": "#333", "orient": "horizontal", "size": 8, "thickness": 1.1},
         "encoding": {"x": {"field": "x", "type": "quantitative"}, "y": {"field": "hi", "type": "quantitative"}}}
      ]
    },
    {
      "width": 397, "height": 180,
      "view": {"stroke": null},
      "data": {"values": []},
      "mark": "point"
    },
    {
      "width": 397, "height": 178,
      "title": {"text": "FD", "dx": 11, "offset": -5},
      "layer": [
        {"data": {"name": "lines"}, "transform": [{"filter": "datum.p == 'FD'"}], "mark": {"type": "line", "color": "#111", "strokeWidth": 2.4},
         "encoding": {"x": {"field": "x", "type": "quantitative", "scale": {"domain": [0, 1]}, "axis": {"values": [0, 0.2, 0.4, 0.6, 0.8, 1], "format": "~g", "title": null}},
                      "y": {"field": "y", "type": "quantitative", "scale": {"domain": [1, 2], "nice": false}, "axis": {"values": [1, 1.2, 1.4, 1.6, 1.8, 2], "tickCount": 6, "format": ".1f", "title": "FD"}},
                      "strokeDash": {"field": "g", "type": "nominal", "scale": {"domain": ["OP-Sham", "OP-OVX-Vehicle"], "range": [[1, 0], [10, 5]]}, "title": ["x-axis(0~1):", "Caudal to Cranial of trabecular cylinder"]}}},
        {"data": {"name": "bars"}, "transform": [{"filter": "datum.p == 'FD'"}], "mark": {"type": "rule", "color": "#333", "strokeWidth": 1.1},
         "encoding": {"x": {"field": "x", "type": "quantitative"}, "y": {"field": "y", "type": "quantitative"}, "y2": {"field": "hi"},
                      "strokeDash": {"field": "g", "type": "nominal", "title": ["x-axis(0~1):", "Caudal to Cranial of trabecular cylinder"]}}},
        {"data": {"name": "bars"}, "transform": [{"filter": "datum.p == 'FD'"}], "mark": {"type": "tick", "color": "#333", "orient": "horizontal", "size": 8, "thickness": 1.1},
         "encoding": {"x": {"field": "x", "type": "quantitative"}, "y": {"field": "hi", "type": "quantitative"}}}
      ]
    },
    {
      "width": 397, "height": 178,
      "title": {"text": "BV/TV", "dx": 12, "offset": -5},
      "layer": [
        {"data": {"name": "lines"}, "transform": [{"filter": "datum.p == 'BV/TV'"}], "mark": {"type": "line", "color": "#111", "strokeWidth": 2.4},
         "encoding": {"x": {"field": "x", "type": "quantitative", "scale": {"domain": [0, 1]}, "axis": {"values": [0, 0.2, 0.4, 0.6, 0.8, 1], "format": "~g", "title": null}},
                      "y": {"field": "y", "type": "quantitative", "scale": {"domain": [0, 75], "nice": false}, "axis": {"values": [0, 15, 30, 45, 60, 75], "tickCount": 6, "title": "BV/TV (%)"}},
                      "strokeDash": {"field": "g", "type": "nominal", "scale": {"domain": ["OP-Sham", "OP-OVX-Vehicle"], "range": [[1, 0], [10, 5]]}, "title": ["x-axis(0~1):", "Caudal to Cranial of trabecular cylinder"]}}},
        {"data": {"name": "bars"}, "transform": [{"filter": "datum.p == 'BV/TV'"}], "mark": {"type": "rule", "color": "#333", "strokeWidth": 1.1},
         "encoding": {"x": {"field": "x", "type": "quantitative"}, "y": {"field": "y", "type": "quantitative"}, "y2": {"field": "hi"},
                      "strokeDash": {"field": "g", "type": "nominal", "title": ["x-axis(0~1):", "Caudal to Cranial of trabecular cylinder"]}}},
        {"data": {"name": "bars"}, "transform": [{"filter": "datum.p == 'BV/TV'"}], "mark": {"type": "tick", "color": "#333", "orient": "horizontal", "size": 8, "thickness": 1.1},
         "encoding": {"x": {"field": "x", "type": "quantitative"}, "y": {"field": "hi", "type": "quantitative"}}}
      ]
    },
    {
      "width": 397, "height": 178,
      "title": {"text": "BMD", "dx": 11, "offset": -5},
      "layer": [
        {"data": {"name": "lines"}, "transform": [{"filter": "datum.p == 'BMD'"}], "mark": {"type": "line", "color": "#111", "strokeWidth": 2.4},
         "encoding": {"x": {"field": "x", "type": "quantitative", "scale": {"domain": [0, 1]}, "axis": {"values": [0, 0.2, 0.4, 0.6, 0.8, 1], "format": "~g", "title": null}},
                      "y": {"field": "y", "type": "quantitative", "scale": {"domain": [0, 1], "nice": false}, "axis": {"values": [0, 0.2, 0.4, 0.6, 0.8, 1], "tickCount": 6, "format": ".1f", "title": "BMD(g/cm³)"}},
                      "strokeDash": {"field": "g", "type": "nominal", "scale": {"domain": ["OP-Sham", "OP-OVX-Vehicle"], "range": [[1, 0], [10, 5]]}, "title": ["x-axis(0~1):", "Caudal to Cranial of trabecular cylinder"]}}},
        {"data": {"name": "bars"}, "transform": [{"filter": "datum.p == 'BMD'"}], "mark": {"type": "rule", "color": "#333", "strokeWidth": 1.1},
         "encoding": {"x": {"field": "x", "type": "quantitative"}, "y": {"field": "y", "type": "quantitative"}, "y2": {"field": "hi"},
                      "strokeDash": {"field": "g", "type": "nominal", "title": ["x-axis(0~1):", "Caudal to Cranial of trabecular cylinder"]}}},
        {"data": {"name": "bars"}, "transform": [{"filter": "datum.p == 'BMD'"}], "mark": {"type": "tick", "color": "#333", "orient": "horizontal", "size": 8, "thickness": 1.1},
         "encoding": {"x": {"field": "x", "type": "quantitative"}, "y": {"field": "hi", "type": "quantitative"}}}
      ]
    }
  ],
  "config": {
    "font": "Liberation Sans",
    "view": {"stroke": "#808080", "strokeWidth": 1},
    "axis": {"grid": false, "domain": false, "ticks": false, "labelFontSize": 16, "labelColor": "#111", "titleFontSize": 16, "titleFontWeight": "bold", "titleColor": "#111", "labelFlush": false, "labelOverlap": false},
    "axisX": {"labelPadding": 11},
    "axisY": {"ticks": true, "tickSize": -4, "tickColor": "#808080", "labelPadding": 17, "minExtent": 36, "maxExtent": 36, "titlePadding": 7},
    "title": {"fontSize": 16, "fontWeight": "bold", "color": "#111", "anchor": "start", "frame": "group"},
    "legend": {
      "orient": "none", "legendX": 980, "legendY": -1, "padding": 0,
      "symbolType": "stroke", "symbolSize": 2704, "symbolStrokeWidth": 2.4, "symbolStrokeColor": "#111", "symbolOffset": 11,
      "labelFontSize": 20, "labelOffset": 24, "labelColor": "#111", "labelLimit": 300, "rowPadding": 14,
      "titleOrient": "bottom", "titleFontSize": 20, "titleFontWeight": "normal", "titleColor": "#111", "titleLineHeight": 23,
      "titlePadding": 32, "titleLimit": 500, "titleAnchor": "start"
    }
  }
}
